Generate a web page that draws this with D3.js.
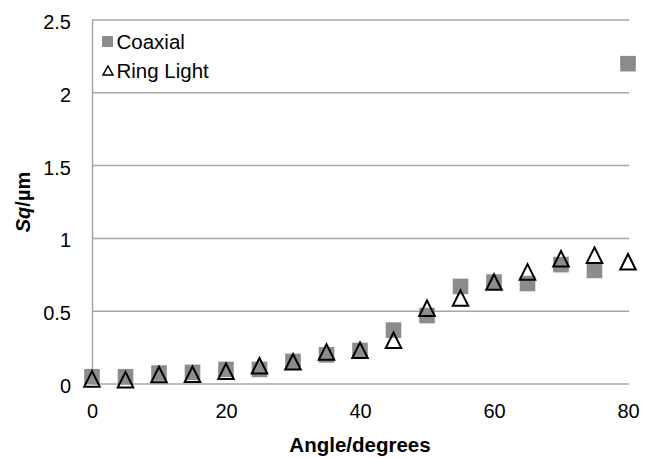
<!DOCTYPE html>
<html>
<head>
<meta charset="utf-8">
<script src="https://cdn.jsdelivr.net/npm/d3@7"></script>
<style>
  body { margin: 0; background: #fff; }
  svg { display: block; font-family: "Liberation Sans", Arial, sans-serif; }
</style>
</head>
<body>
<div id="chart"></div>
<script>
// values
var angles = [0, 5, 10, 15, 20, 25, 30, 35, 40, 45, 50, 55, 60, 65, 70, 75, 80];
var coaxial = [0.05, 0.05, 0.075, 0.08, 0.10, 0.10, 0.155, 0.20, 0.23, 0.37, 0.47, 0.67, 0.70, 0.69, 0.82, 0.78, 2.20];
var ringLight = [0.035, 0.03, 0.065, 0.067, 0.087, 0.125, 0.153, 0.22, 0.232, 0.30, 0.52, 0.59, 0.70, 0.77, 0.86, 0.885, 0.84];
var xTicks = [0, 20, 40, 60, 80];
var yTicks = [0, 0.5, 1, 1.5, 2, 2.5];
var seriesNames = ['Coaxial', 'Ring Light'];

var width = 649, height = 458;
var plot = {left: 92, right: 628, top: 20, bottom: 384};
var gridColor = '#a6a6a6', markerGray = '#8c8c8c';

var svg = d3.select('#chart').append('svg')
    .attr('width', width)
    .attr('height', height);

var xScale = d3.scaleLinear().domain([0, 80]).range([plot.left, plot.right]);
var yScale = d3.scaleLinear().domain([0, 2.5]).range([plot.bottom, plot.top]);

// horizontal gridlines (the 0 line doubles as the x axis)
svg.append('g').selectAll('line')
  .data(yTicks)
  .enter().append('line')
    .attr('x1', plot.left).attr('x2', plot.right + 1)
    .attr('y1', function(d) { return yScale(d); })
    .attr('y2', function(d) { return yScale(d); })
    .attr('stroke', gridColor)
    .attr('stroke-width', 1.5);

// left axis line + labels
var lAxis = d3.axisLeft(yScale).tickValues(yTicks).tickSize(0).tickPadding(21)
    .tickFormat(function(d) { return String(d); });
var gy = svg.append('g').attr('transform', 'translate(' + plot.left + ',0)').call(lAxis);
gy.select('.domain').attr('stroke', gridColor).attr('stroke-width', 1.5);
gy.selectAll('text')
    .attr('font-size', 20)
    .attr('font-family', '"Liberation Sans", Arial, sans-serif')
    .attr('fill', '#000')
    .attr('dy', '0.42em');

// bottom axis labels
var bAxis = d3.axisBottom(xScale).tickValues(xTicks).tickSize(0).tickPadding(20);
var gx = svg.append('g').attr('transform', 'translate(0,' + plot.bottom + ')').call(bAxis);
gx.select('.domain').remove();
gx.selectAll('text')
    .attr('font-size', 20)
    .attr('font-family', '"Liberation Sans", Arial, sans-serif')
    .attr('fill', '#000');

// axis titles
svg.append('text')
    .attr('x', 360).attr('y', 452)
    .attr('text-anchor', 'middle')
    .attr('font-size', 20.5).attr('font-weight', 'bold')
    .text('Angle/degrees');

var yTitle = svg.append('text')
    .attr('transform', 'translate(30,' + ((plot.top + plot.bottom) / 2) + ') rotate(-90)')
    .attr('text-anchor', 'middle')
    .attr('font-size', 20).attr('font-weight', 'bold');
yTitle.append('tspan').attr('font-style', 'italic').text('Sq');
yTitle.append('tspan').text('/µm');

// markers
var sq = 15.6;
svg.append('g').selectAll('rect')
  .data(angles)
  .enter().append('rect')
    .attr('x', function(d) { return xScale(d) - sq / 2; })
    .attr('y', function(d, i) { return yScale(coaxial[i]) - sq / 2; })
    .attr('width', sq).attr('height', sq)
    .attr('fill', markerGray);

function triPath(w, h) {
  return 'M0,' + (-h / 2) + 'L' + (w / 2) + ',' + (h / 2) + 'L' + (-w / 2) + ',' + (h / 2) + 'Z';
}

svg.append('g').selectAll('path')
  .data(angles)
  .enter().append('path')
    .attr('transform', function(d, i) { return 'translate(' + xScale(d) + ',' + yScale(ringLight[i]) + ')'; })
    .attr('d', triPath(15.5, 15.5))
    .attr('fill', 'none')
    .attr('stroke', '#000')
    .attr('stroke-width', 2)
    .attr('stroke-linejoin', 'miter');

// legend
var legend = svg.append('g');
legend.append('rect')
    .attr('x', 102).attr('y', 36).attr('width', 11).attr('height', 11)
    .attr('fill', markerGray);
legend.append('path')
    .attr('transform', 'translate(108,70.5)')
    .attr('d', triPath(10, 9))
    .attr('fill', 'none').attr('stroke', '#000').attr('stroke-width', 1.5);
legend.selectAll('text')
  .data(seriesNames)
  .enter().append('text')
    .attr('x', 116.5)
    .attr('y', function(d, i) { return 49 + i * 29; })
    .attr('font-size', 20.5)
    .text(function(d) { return d; });
</script>
</body>
</html>
